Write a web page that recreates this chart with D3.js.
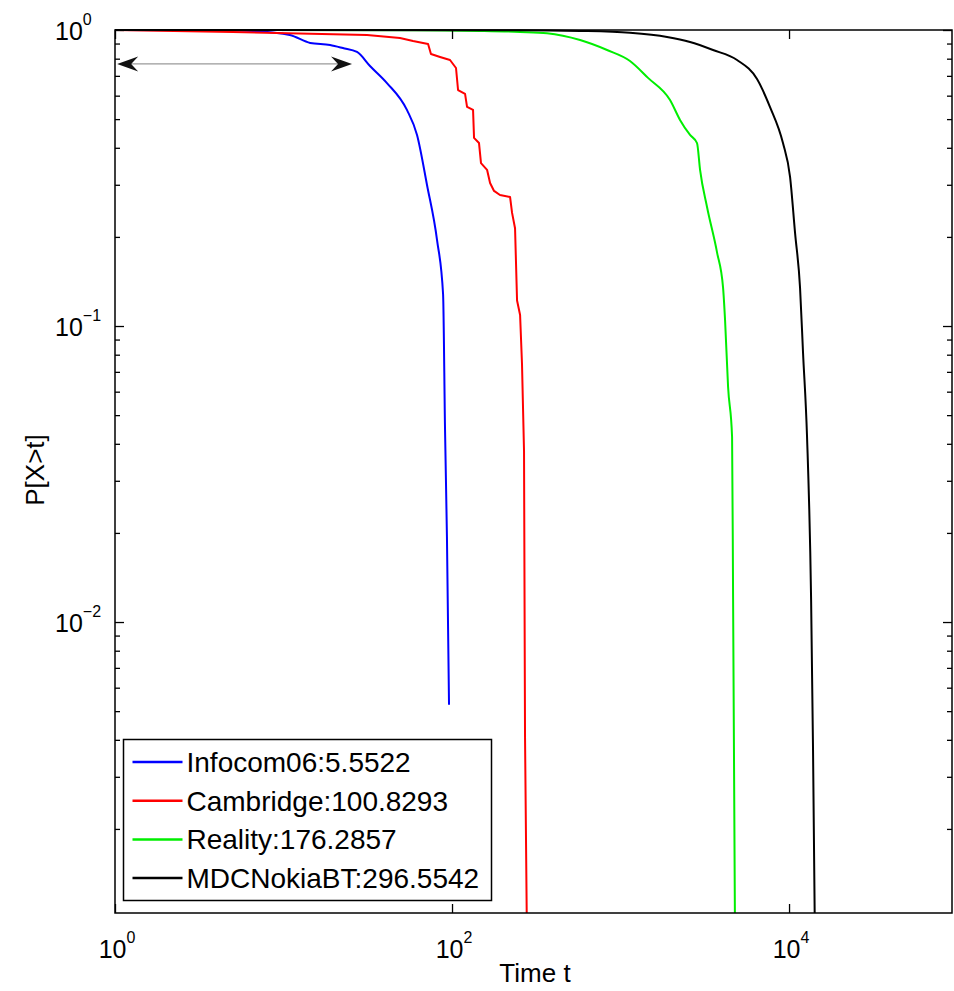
<!DOCTYPE html>
<html>
<head>
<meta charset="utf-8">
<script src="https://cdn.jsdelivr.net/npm/d3@7/dist/d3.min.js"></script>
<style>
  body{margin:0;background:#fff;}
  svg text{font-family:"Liberation Sans",Arial,Helvetica,sans-serif;fill:#000;}
</style>
</head>
<body>
<svg id="chart" width="954" height="991"></svg>
<script>
'use strict';
// CCDF of inter-contact time, log-log. t in time units, P = P[X>t]
const infocomT = [1, 4.5, 6.6, 10.9, 14.4, 18.9, 22.5, 27.3, 32.6, 41.1, 54.0, 62.0, 71.1, 81.5, 88.5, 90.9, 93.3, 96.0];
const infocomP = [1, 0.998, 0.992, 0.962, 0.904, 0.890, 0.869, 0.843, 0.756, 0.662, 0.537, 0.442, 0.299, 0.195, 0.128, 0.0445, 0.0194, 0.00525];

const cambridgeT = [1, 5.0, 31.3, 49.1, 58.7, 72.1, 75.0, 84.9, 97.3, 105.6, 108.6, 119.5, 122.8, 133.3, 135.1, 144.6, 148.6, 161.4, 168.2, 177.6, 192.6, 221.0, 227.2, 236.6, 243.2, 253.5, 260.2, 267.5, 271.2, 278.7];
const cambridgeP = [1, 0.985, 0.962, 0.940, 0.918, 0.897, 0.830, 0.811, 0.792, 0.744, 0.627, 0.608, 0.550, 0.537, 0.432, 0.415, 0.355, 0.337, 0.304, 0.286, 0.277, 0.273, 0.241, 0.214, 0.122, 0.109, 0.0744, 0.0378, 0.00408, 0.0008];

const realityT = [1, 60, 146.6, 253, 366.6, 575.4, 831.8, 1138, 1456, 1967, 2254, 2585, 2844, 2965, 3263, 3741, 4058, 4171, 4348, 4592, 4656, 4784];
const realityP = [1, 0.999, 0.993, 0.985, 0.975, 0.925, 0.856, 0.786, 0.689, 0.580, 0.497, 0.442, 0.415, 0.337, 0.252, 0.177, 0.135, 0.105, 0.0622, 0.0422, 0.0119, 0.0008];

const nokiaT = [1, 250, 575, 1138, 1888, 2585, 3540, 4914, 6457, 7714, 9205, 10140, 10860, 11620, 12110, 12790, 13520, 13880, 14260];
const nokiaP = [1, 0.999, 0.993, 0.978, 0.947, 0.911, 0.856, 0.792, 0.683, 0.549, 0.415, 0.319, 0.206, 0.135, 0.0811, 0.0422, 0.0119, 0.0037, 0.0008];

const seriesNames = ['Infocom06:5.5522', 'Cambridge:100.8293', 'Reality:176.2857', 'MDCNokiaBT:296.5542'];
const seriesColors = ['#0000ff', '#ff0000', '#00ee00', '#000000'];

const xTicks = [1, 100, 10000];
const xTickExp = ['0', '2', '4'];
const yTicks = [1, 0.1, 0.01];
const yTickExp = ['0', '\u22121', '\u22122'];
const yMinorMant = [2, 3, 4, 5, 6, 7, 8, 9];
const yMinorDecades = [0.001, 0.01, 0.1];

const xDomain = [1, 9.27e4];
const yDomain = [1.04e-3, 1];

// double arrow annotation (data coords)
const arrowT = [1.03, 25.5];
const arrowP = 0.768;

const m = {left: 115, top: 30, right: 952, bottom: 913};

const svg = d3.select('#chart');
const x = d3.scaleLog().domain(xDomain).range([m.left, m.right]);
const y = d3.scaleLog().domain(yDomain).range([m.bottom, m.top]);

svg.append('defs').append('clipPath').attr('id', 'plotclip')
  .append('rect').attr('x', m.left).attr('y', m.top - 4)
  .attr('width', m.right - m.left).attr('height', m.bottom - m.top + 4);

// cambridge is step-like, the others are smooth
const series = [
  {t: infocomT, p: infocomP, curve: d3.curveMonotoneX},
  {t: cambridgeT, p: cambridgeP, curve: d3.curveLinear},
  {t: realityT, p: realityP, curve: d3.curveMonotoneX},
  {t: nokiaT, p: nokiaP, curve: d3.curveMonotoneX}
];

const plot = svg.append('g').attr('clip-path', 'url(#plotclip)');
series.forEach((s, i) => {
  const line = d3.line().x(d => x(d[0])).y(d => y(d[1])).curve(s.curve);
  plot.append('path')
    .datum(s.t.map((t, k) => [t, s.p[k]]))
    .attr('d', line)
    .attr('fill', 'none')
    .attr('stroke', seriesColors[i])
    .attr('stroke-width', 2)
    .attr('stroke-linejoin', 'round');
});

// axes (ticks point inward)
const yMinor = [];
yMinorDecades.forEach(dec => yMinorMant.forEach(mm => {
  const v = +(mm * dec).toPrecision(3);
  if (v >= yDomain[0] && v < yDomain[1]) yMinor.push(v);
}));

const styleAxis = g => {
  g.select('.domain').remove();
  g.selectAll('line').attr('stroke', '#000').attr('stroke-width', 1.3);
  g.selectAll('text').remove();
};

svg.append('g').attr('transform', `translate(${m.left},0)`)
  .call(d3.axisLeft(y).tickValues(yTicks).tickSize(-9)).call(styleAxis);
svg.append('g').attr('transform', `translate(${m.left},0)`)
  .call(d3.axisLeft(y).tickValues(yMinor).tickSize(-5)).call(styleAxis);
svg.append('g').attr('transform', `translate(${m.right},0)`)
  .call(d3.axisRight(y).tickValues(yTicks).tickSize(-9)).call(styleAxis);
svg.append('g').attr('transform', `translate(${m.right},0)`)
  .call(d3.axisRight(y).tickValues(yMinor).tickSize(-5)).call(styleAxis);
svg.append('g').attr('transform', `translate(0,${m.bottom})`)
  .call(d3.axisBottom(x).tickValues(xTicks).tickSize(-9)).call(styleAxis);
svg.append('g').attr('transform', `translate(0,${m.top})`)
  .call(d3.axisTop(x).tickValues(xTicks).tickSize(-9)).call(styleAxis);

svg.append('rect')
  .attr('x', m.left).attr('y', m.top)
  .attr('width', m.right - m.left).attr('height', m.bottom - m.top)
  .attr('fill', 'none').attr('stroke', '#000').attr('stroke-width', 1.5);

// tick labels 10^k
const yLab = svg.append('g').selectAll('text').data(yTicks).join('text')
  .attr('x', 55).attr('y', d => y(d) + 10);
yLab.append('tspan').attr('font-size', 25).text('10');
yLab.append('tspan').attr('font-size', 16).attr('dy', -15).text((d, i) => yTickExp[i]);

const xLab = svg.append('g').selectAll('text').data(xTicks).join('text')
  .attr('x', d => x(d) + 2).attr('y', 958).attr('text-anchor', 'middle');
xLab.append('tspan').attr('font-size', 25).text('10');
xLab.append('tspan').attr('font-size', 16).attr('dy', -15).text((d, i) => xTickExp[i]);

svg.append('text').attr('x', 535).attr('y', 982).attr('text-anchor', 'middle')
  .attr('font-size', 26).text('Time t');
svg.append('text').attr('transform', 'translate(44,470) rotate(-90)')
  .attr('text-anchor', 'middle').attr('font-size', 26).text('P[X>t]');

// double-headed arrow
const ay = y(arrowP), ax0 = x(arrowT[0]), ax1 = x(arrowT[1]);
svg.append('line').attr('x1', ax0 + 10).attr('x2', ax1 - 10).attr('y1', ay).attr('y2', ay)
  .attr('stroke', '#9a9a9a').attr('stroke-width', 1.2);
const head = 'M0,0 L-21,-7.5 L-14,0 L-21,7.5 Z';
svg.append('path').attr('d', head).attr('transform', `translate(${ax1},${ay})`).attr('fill', '#111');
svg.append('path').attr('d', head).attr('transform', `translate(${ax0},${ay}) rotate(180)`).attr('fill', '#111');

// legend
const lg = svg.append('g').attr('transform', 'translate(123.5,739.5)');
lg.append('rect').attr('width', 368).attr('height', 161)
  .attr('fill', '#fff').attr('stroke', '#000').attr('stroke-width', 1.5);
seriesNames.forEach((name, i) => {
  const cy = 22.5 + i * 38.7;
  lg.append('line').attr('x1', 9).attr('x2', 59).attr('y1', cy).attr('y2', cy)
    .attr('stroke', seriesColors[i]).attr('stroke-width', 2.5);
  lg.append('text').attr('x', 63).attr('y', cy + 10).attr('font-size', 28).text(name);
});
</script>
</body>
</html>
